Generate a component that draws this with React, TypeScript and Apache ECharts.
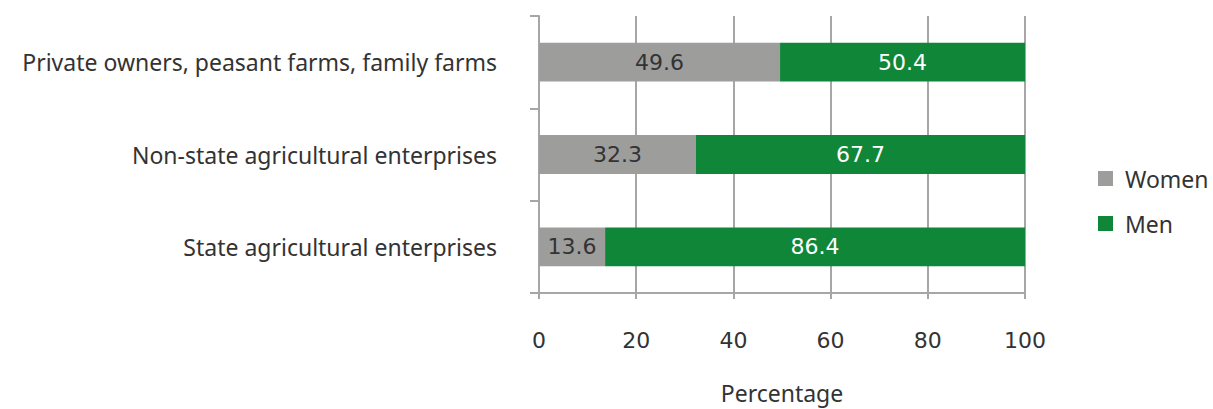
import React, { useEffect, useRef } from "react";
import * as echarts from "echarts";

// Categories listed bottom-to-top along the category axis
const categories = [
  "State agricultural enterprises",
  "Non-state agricultural enterprises",
  "Private owners, peasant farms, family farms",
];
const women = [13.6, 32.3, 49.6];
const men = [86.4, 67.7, 50.4];

const FONT = "'Noto Sans', sans-serif";
const NUM_FONT = "'DejaVu Sans', sans-serif";
const TEXT = "#333333";
const GRAY = "#9d9d9c";
const GREEN = "#0f8638";
const AXIS = "#a6a6a6";
const FS = 23;
const NUM_FS = 22;

export default function App() {
  const ref = useRef<HTMLDivElement>(null);

  useEffect(() => {
    if (!ref.current) return;
    const chart = echarts.init(ref.current, null, { renderer: "svg" });
    chart.setOption({
      animation: false,
      textStyle: { fontFamily: FONT },
      grid: { left: 539, right: 188, top: 16, bottom: 97 },
      legend: {
        orient: "vertical",
        left: 1093,
        top: 162,
        itemWidth: 15,
        itemHeight: 15,
        itemGap: 22,
        icon: "rect",
        textStyle: { fontFamily: FONT, fontSize: FS, color: TEXT, padding: [0, 0, 0, 7] },
        data: ["Women", "Men"],
      },
      xAxis: {
        type: "value",
        min: 0,
        max: 100,
        interval: 20,
        name: "Percentage",
        nameLocation: "middle",
        nameGap: 88,
        nameTextStyle: { fontFamily: FONT, fontSize: FS, color: TEXT },
        axisLine: { show: true, lineStyle: { color: AXIS, width: 2 } },
        axisTick: { show: true, length: 6, lineStyle: { color: AXIS, width: 2 } },
        axisLabel: { fontFamily: NUM_FONT, fontSize: NUM_FS, color: TEXT, margin: 36 },
        splitLine: { show: true, lineStyle: { color: AXIS, width: 2 } },
      },
      yAxis: {
        type: "category",
        data: categories,
        axisLine: { show: true, lineStyle: { color: AXIS, width: 2 } },
        axisTick: { show: true, length: 9, lineStyle: { color: AXIS, width: 2 } },
        axisLabel: { fontFamily: FONT, fontSize: FS, color: TEXT, margin: 42 },
      },
      series: [
        {
          name: "Women",
          type: "bar",
          stack: "total",
          barWidth: "42%",
          data: women,
          itemStyle: { color: GRAY },
          label: { show: true, position: "inside", fontFamily: NUM_FONT, fontSize: NUM_FS, color: TEXT },
        },
        {
          name: "Men",
          type: "bar",
          stack: "total",
          barWidth: "42%",
          data: men,
          itemStyle: { color: GREEN },
          label: { show: true, position: "inside", fontFamily: NUM_FONT, fontSize: NUM_FS, color: "#ffffff" },
        },
      ],
    });
    return () => chart.dispose();
  }, []);

  return (
    <div
      ref={ref}
      style={{ position: "fixed", left: 0, top: 0, width: 1213, height: 409, background: "#ffffff" }}
    />
  );
}
